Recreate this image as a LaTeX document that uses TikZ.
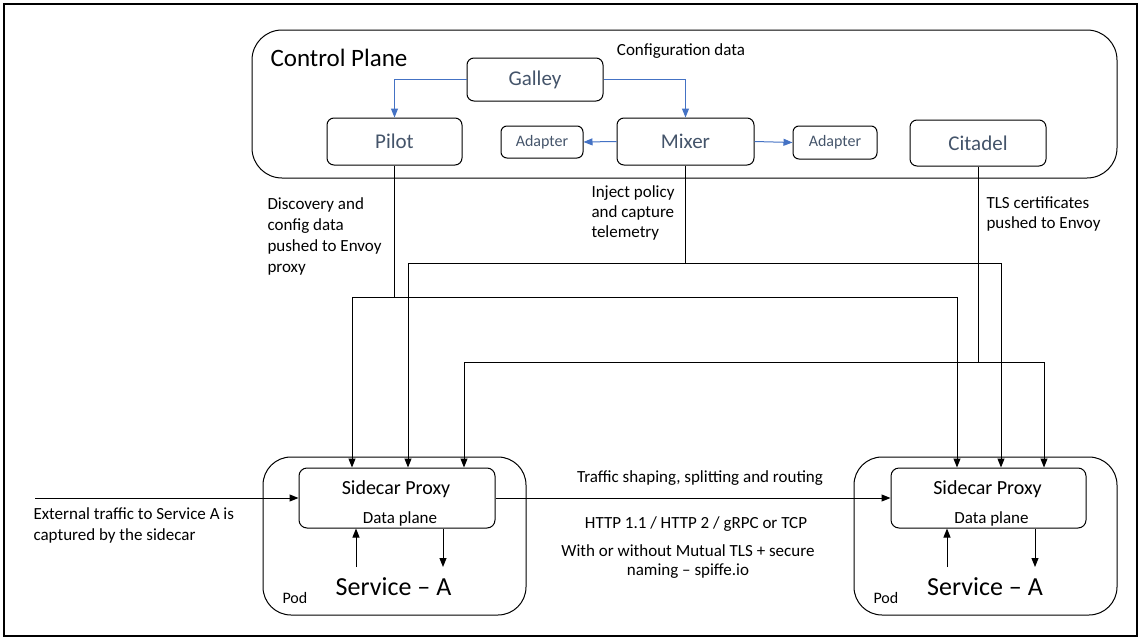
\documentclass[tikz,border=0pt]{standalone}
\usepackage{fontspec}
\setmainfont{Carlito}
\usetikzlibrary{arrows.meta,calc}
\definecolor{txtslate}{HTML}{44546A}
\definecolor{linkblue}{HTML}{4472C4}
\tikzset{every picture/.style={line width=1pt}}
\tikzset{
  comp/.style={draw, rounded corners=7pt, inner sep=0pt, text=txtslate, font=\fontsize{21}{25}\selectfont},
  adapt/.style={comp, rounded corners=6pt, font=\fontsize{16}{19}\selectfont},
  pod/.style={draw, rounded corners=28pt, inner sep=0pt},
  side/.style={draw, rounded corners=8pt, inner sep=0pt},
  lbl/.style={inner sep=0pt, align=left, font=\fontsize{17}{21}\selectfont},
  arr/.style={-{Triangle[length=9pt,width=7pt]}},
  barr/.style={linkblue, -{Triangle[length=9pt,width=7pt]}},
}
\begin{document}
\begin{tikzpicture}[x=1pt,y=1pt,yscale=-1]
\useasboundingbox (0,0) rectangle (1141,640);

%Outer frame
\draw[line width=2.5pt] (4,4) rectangle (1137,636);

%Control plane
\node[pod, rounded corners=30pt, minimum width=865pt, minimum height=148pt] (ctrl) at (684.5,104) {};
\node[anchor=west, inner sep=0pt, font=\fontsize{25}{30}\selectfont] (ctrltxt) at (270,58) {Control Plane};
\node[lbl] (cfgtxt) at (681,51) {Configuration data};

\node[comp, minimum width=136pt, minimum height=43pt] (galley) at (535,79.5) {Galley};
\node[comp, minimum width=135pt, minimum height=47pt] (pilot) at (394.5,141.5) {Pilot};
\node[comp, minimum width=137pt, minimum height=47pt] (mixer) at (685.5,141.5) {Mixer};
\node[comp, minimum width=136pt, minimum height=46pt] (citadel) at (978,143) {Citadel};
\node[adapt, minimum width=82pt, minimum height=32pt] (adl) at (542,142) {Adapter};
\node[adapt, minimum width=84pt, minimum height=33pt] (adr) at (835,142.5) {Adapter};

%Blue arrows
\draw[barr] (galley.west) -| (pilot.north);
\draw[barr] (galley.east) -| (mixer.north);
\draw[barr] (mixer.west) -- (adl.east);
\draw[barr] (mixer.east) -- (adr.west);

%Pods
\node[pod, minimum width=263pt, minimum height=158pt] (podl) at (394.5,536) {};
\node[pod, minimum width=263pt, minimum height=158pt] (podr) at (985.5,536) {};
\node[side, minimum width=196pt, minimum height=60pt] (sidel) at (397,498) {};
\node[side, minimum width=195pt, minimum height=60pt] (sider) at (988.5,498) {};

% Text Node
\node[inner sep=0pt, font=\fontsize{20}{24}\selectfont] (spl) at (396,489) {Sidecar Proxy};
\node[inner sep=0pt, font=\fontsize{17}{20}\selectfont] (dpl) at (400,519) {Data plane};
\node[inner sep=0pt, font=\fontsize{26}{30}\selectfont] (svcl) at (393.5,587) {Service – A};
\node[anchor=west, inner sep=0pt, font=\fontsize{16}{19}\selectfont] (podtl) at (282,598) {Pod};
\node[inner sep=0pt, font=\fontsize{20}{24}\selectfont] (spr) at (987.5,489) {Sidecar Proxy};
\node[inner sep=0pt, font=\fontsize{17}{20}\selectfont] (dpr) at (991.5,519) {Data plane};
\node[inner sep=0pt, font=\fontsize{26}{30}\selectfont] (svcr) at (985,587) {Service – A};
\node[anchor=west, inner sep=0pt, font=\fontsize{16}{19}\selectfont] (podtr) at (873,598) {Pod};

%Service arrows
\coordinate (inl) at (356,567);
\coordinate (outl) at (443,567);
\coordinate (inr) at (947,567);
\coordinate (outr) at (1035,567);
\draw[arr] (inl) -- (inl |- sidel.south);
\draw[arr] (outl |- sidel.south) -- (outl);
\draw[arr] (inr) -- (inr |- sider.south);
\draw[arr] (outr |- sider.south) -- (outr);

%Pilot bus
\coordinate (pbl) at (352,297);
\coordinate (pbr) at (957,297);
\draw (pilot.south) -- (pilot.south |- pbl);
\draw[arr] (pbr) -- (pbl) -- (pbl |- sidel.north);
\draw[arr] (pbr) -- (pbr |- sider.north);

%Mixer bus
\coordinate (mbl) at (408,263);
\coordinate (mbr) at (1001,263);
\draw (mixer.south) -- (mixer.south |- mbl);
\draw[arr] (mbr) -- (mbl) -- (mbl |- sidel.north);
\draw[arr] (mbr) -- (mbr |- sider.north);

%Citadel bus
\coordinate (cbl) at (464,362);
\coordinate (cbr) at (1044,362);
\draw (citadel.south) -- (citadel.south |- cbl);
\draw[arr] (cbr) -- (cbl) -- (cbl |- sidel.north);
\draw[arr] (cbr) -- (cbr |- sider.north);

%Traffic
\coordinate (ext) at (35,498);
\draw[arr] (ext) -- (sidel.west);
\draw[arr] (sidel.east) -- (sider.west);

% Text Node
\node[lbl, anchor=north west] (disctxt) at (267,197) {Discovery and\\config data\\pushed to Envoy\\proxy};
\node[lbl, anchor=north west, font=\fontsize{17}{20}\selectfont] (injtxt) at (591,185) {Inject policy\\and capture\\telemetry};
\node[lbl, anchor=north west, font=\fontsize{17}{20}\selectfont] (tlstxt) at (986,196) {TLS certificates\\pushed to Envoy};
\node[lbl, anchor=north west, font=\fontsize{17}{21.5}\selectfont] (exttxt) at (33,507) {External traffic to Service A is\\captured by the sidecar};
\node[lbl] (shptxt) at (700,478) {Traffic shaping, splitting and routing};
\node[lbl] (protxt) at (696,524) {HTTP 1.1 / HTTP 2 / gRPC or TCP};
\node[lbl, align=center, font=\fontsize{17}{19}\selectfont] (tlsmtxt) at (688,562) {With or without Mutual TLS + secure\\naming – spiffe.io};

\end{tikzpicture}
\end{document}
